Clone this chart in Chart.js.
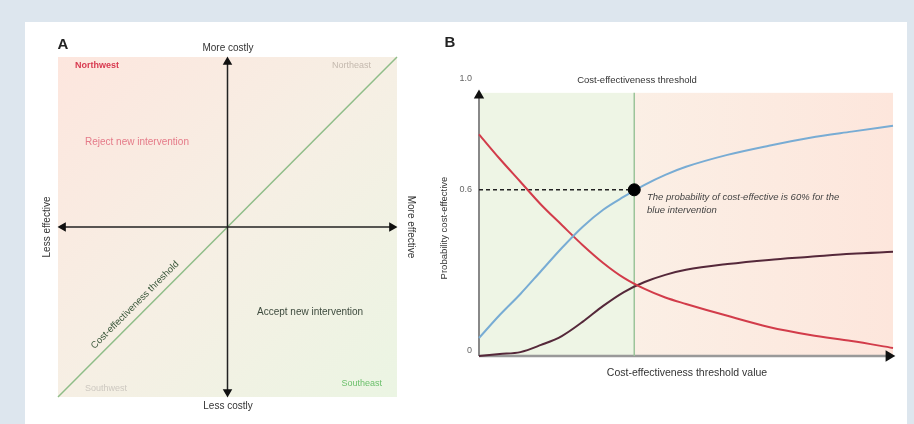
<!DOCTYPE html>
<html>
<head>
<meta charset="utf-8">
<script src="https://cdn.jsdelivr.net/npm/chart.js@4.4.0/dist/chart.umd.min.js"></script>
<style>
  html, body { margin: 0; padding: 0; }
  body { width: 914px; height: 424px; background: #dde6ee; position: relative; overflow: hidden; font-family: "Liberation Sans", Arial, sans-serif; }
  #panel { position: absolute; left: 25px; top: 22px; width: 882px; height: 402px; background: #fff; }
  canvas { position: absolute; }
  #chartA { left: 25px; top: 22px; }
  #chartB { left: 430px; top: 22px; }
</style>
</head>
<body>
<div id="panel"></div>
<canvas id="chartA" width="405" height="402"></canvas>
<canvas id="chartB" width="475" height="402"></canvas>
<script>
// ---- panel A: cost-effectiveness plane ----
const planeRange = [-1, 1];
const axisEnds = [-0.97, 0.97];
const thresholdLine = [-1, 1];

// ---- panel B: acceptability curves ----
const thresholdValues = [0, 0.05, 0.1, 0.15, 0.2, 0.25, 0.3, 0.35, 0.4, 0.45, 0.5, 0.6, 0.7, 0.8, 0.9, 1.0];
const blueIntervention = [0.065, 0.148, 0.224, 0.307, 0.39, 0.466, 0.528, 0.575, 0.618, 0.654, 0.683, 0.726, 0.759, 0.788, 0.81, 0.831];
const redIntervention = [0.80, 0.712, 0.629, 0.546, 0.473, 0.401, 0.336, 0.282, 0.242, 0.211, 0.188, 0.145, 0.105, 0.076, 0.054, 0.029];
const darkIntervention = [0, 0.007, 0.014, 0.04, 0.072, 0.123, 0.181, 0.231, 0.267, 0.293, 0.311, 0.332, 0.347, 0.358, 0.369, 0.376];
const yTicks = [0, 0.6, 1.0];
const yTickLabels = ['0', '0.6', '1.0'];
const chosenThreshold = 0.375;
const chosenProbability = 0.6;
const plotTop = 0.95;

const FONT = '"Liberation Sans", Arial, sans-serif';

function pts(xs, ys) { return xs.map((x, i) => ({ x: x, y: ys[i] })); }

function txt(ctx, s, x, y, opt) {
  ctx.save();
  ctx.font = (opt.style || '') + ' ' + (opt.size || 10) + 'px ' + FONT;
  ctx.fillStyle = opt.color || '#333';
  ctx.textAlign = opt.align || 'center';
  ctx.textBaseline = 'middle';
  ctx.translate(x, y);
  if (opt.rot) ctx.rotate(opt.rot);
  ctx.fillText(s, 0, 0);
  ctx.restore();
}

const planeBg = {
  id: 'planeBg',
  beforeDatasetsDraw(chart) {
    const { ctx, chartArea: a } = chart;
    const g = ctx.createLinearGradient(a.left, a.top, a.right, a.bottom);
    g.addColorStop(0, '#fde6de');
    g.addColorStop(0.5, '#f6efe4');
    g.addColorStop(1, '#ebf5e3');
    ctx.save();
    ctx.fillStyle = g;
    ctx.fillRect(a.left, a.top, a.right - a.left, a.bottom - a.top);
    ctx.restore();
  },
  afterDraw(chart) {
    const ctx = chart.ctx;
    txt(ctx, 'A', 38, 23, { style: 'bold', size: 15, color: '#222' });
    txt(ctx, 'More costly', 203, 26, { size: 10, color: '#333' });
    txt(ctx, 'Less costly', 203, 384, { size: 10, color: '#333' });
    txt(ctx, 'Less effective', 22, 205, { size: 10, color: '#333', rot: -Math.PI / 2 });
    txt(ctx, 'More effective', 386, 205, { size: 10, color: '#333', rot: Math.PI / 2 });
    txt(ctx, 'Northwest', 50, 44, { style: 'bold', size: 9, color: '#d83a50', align: 'left' });
    txt(ctx, 'Northeast', 346, 44, { size: 9, color: '#c4b9ae', align: 'right' });
    txt(ctx, 'Reject new intervention', 60, 120, { size: 10, color: '#e57a88', align: 'left' });
    txt(ctx, 'Accept new intervention', 232, 290, { size: 10, color: '#3d4a3d', align: 'left' });
    txt(ctx, 'Southwest', 60, 367, { size: 9, color: '#cdc8c0', align: 'left' });
    txt(ctx, 'Southeast', 357, 362, { size: 9, color: '#6cc06c', align: 'right' });
    txt(ctx, 'Cost-effectiveness threshold', 110, 283, { size: 9.5, color: '#3d5a3d', rot: -Math.PI / 4 });
  }
};

new Chart(document.getElementById('chartA'), {
  type: 'line',
  data: {
    datasets: [
      {
        data: pts(thresholdLine, thresholdLine),
        borderColor: '#8fbd88', borderWidth: 1.5, pointRadius: 0, order: 2
      },
      {
        data: pts(axisEnds, [0, 0]),
        borderColor: '#222', borderWidth: 1.5,
        pointBackgroundColor: '#111', pointBorderColor: '#111',
        pointStyle: 'triangle', pointRadius: 4, rotation: [-90, 90], order: 1
      },
      {
        data: pts([0, 0], axisEnds),
        borderColor: '#222', borderWidth: 1.5,
        pointBackgroundColor: '#111', pointBorderColor: '#111',
        pointStyle: 'triangle', pointRadius: 4, rotation: [180, 0], order: 1
      }
    ]
  },
  options: {
    responsive: false,
    devicePixelRatio: 1,
    animation: false,
    clip: false,
    layout: { padding: { left: 33, right: 33, top: 35, bottom: 27 } },
    plugins: { legend: { display: false }, tooltip: { enabled: false } },
    scales: {
      x: { type: 'linear', min: planeRange[0], max: planeRange[1], display: false },
      y: { type: 'linear', min: planeRange[0], max: planeRange[1], display: false }
    }
  },
  plugins: [planeBg]
});

const curveBg = {
  id: 'curveBg',
  beforeDatasetsDraw(chart) {
    const { ctx, scales: { x, y } } = chart;
    const x0 = x.getPixelForValue(0), xt = x.getPixelForValue(chosenThreshold), x1 = x.getPixelForValue(1);
    const y0 = y.getPixelForValue(0), yt = y.getPixelForValue(plotTop);
    ctx.save();
    ctx.fillStyle = '#eef5e5';
    ctx.fillRect(x0, yt, xt - x0, y0 - yt);
    const g = ctx.createLinearGradient(xt, 0, x1, 0);
    g.addColorStop(0, '#fbefe5');
    g.addColorStop(1, '#fde6dc');
    ctx.fillStyle = g;
    ctx.fillRect(xt, yt, x1 - xt, y0 - yt);
    ctx.restore();
  },
  afterDraw(chart) {
    const { ctx, scales: { y } } = chart;
    txt(ctx, 'B', 20, 21, { style: 'bold', size: 15, color: '#222' });
    txt(ctx, 'Cost-effectiveness threshold', 207, 58, { size: 9.5, color: '#333' });
    yTicks.forEach((v, i) => {
      txt(ctx, yTickLabels[i], 42, y.getPixelForValue(v) - (v === 0 ? 5 : 0), { size: 9, color: '#666', align: 'right' });
    });
    txt(ctx, 'Probability cost-effective', 14, 206, { size: 9.5, color: '#333', rot: -Math.PI / 2 });
    txt(ctx, 'Cost-effectiveness threshold value', 257, 351, { size: 10.5, color: '#333' });
    txt(ctx, 'The probability of cost-effective is 60% for the', 217, 175, { style: 'italic', size: 9.5, color: '#444', align: 'left' });
    txt(ctx, 'blue intervention', 217, 188, { style: 'italic', size: 9.5, color: '#444', align: 'left' });
  }
};

new Chart(document.getElementById('chartB'), {
  type: 'line',
  data: {
    datasets: [
      {
        data: [{ x: chosenThreshold, y: chosenProbability }],
        pointRadius: 6, pointBackgroundColor: '#000', pointBorderColor: '#000', showLine: false, order: 0
      },
      {
        data: pts(thresholdValues, blueIntervention),
        borderColor: '#78acd4', borderWidth: 2, pointRadius: 0, cubicInterpolationMode: 'monotone', order: 1
      },
      {
        data: pts(thresholdValues, redIntervention),
        borderColor: '#d23c4a', borderWidth: 2, pointRadius: 0, cubicInterpolationMode: 'monotone', order: 1
      },
      {
        data: pts(thresholdValues, darkIntervention),
        borderColor: '#55283a', borderWidth: 2, pointRadius: 0, cubicInterpolationMode: 'monotone', order: 1
      },
      {
        data: pts([0, chosenThreshold], [chosenProbability, chosenProbability]),
        borderColor: '#222', borderWidth: 1.5, borderDash: [4, 3], pointRadius: 0, order: 2
      },
      {
        data: pts([chosenThreshold, chosenThreshold], [0, plotTop]),
        borderColor: '#9cc49a', borderWidth: 1.5, pointRadius: 0, order: 2
      },
      {
        data: pts([0, 0], [0, 0.94]),
        borderColor: '#888', borderWidth: 2,
        pointBackgroundColor: '#111', pointBorderColor: '#111',
        pointStyle: 'triangle', pointRadius: [0, 4], rotation: 0, order: 3
      },
      {
        data: pts([0, 0.99], [0, 0]),
        borderColor: '#999', borderWidth: 2.5,
        pointBackgroundColor: '#111', pointBorderColor: '#111',
        pointStyle: 'triangle', pointRadius: [0, 4], rotation: 90, order: 3
      }
    ]
  },
  options: {
    responsive: false,
    devicePixelRatio: 1,
    animation: false,
    clip: false,
    layout: { padding: { left: 49, right: 12, top: 57, bottom: 68 } },
    plugins: { legend: { display: false }, tooltip: { enabled: false } },
    scales: {
      x: { type: 'linear', min: 0, max: 1, display: false },
      y: { type: 'linear', min: 0, max: 1, display: false }
    }
  },
  plugins: [curveBg]
});
</script>
</body>
</html>
